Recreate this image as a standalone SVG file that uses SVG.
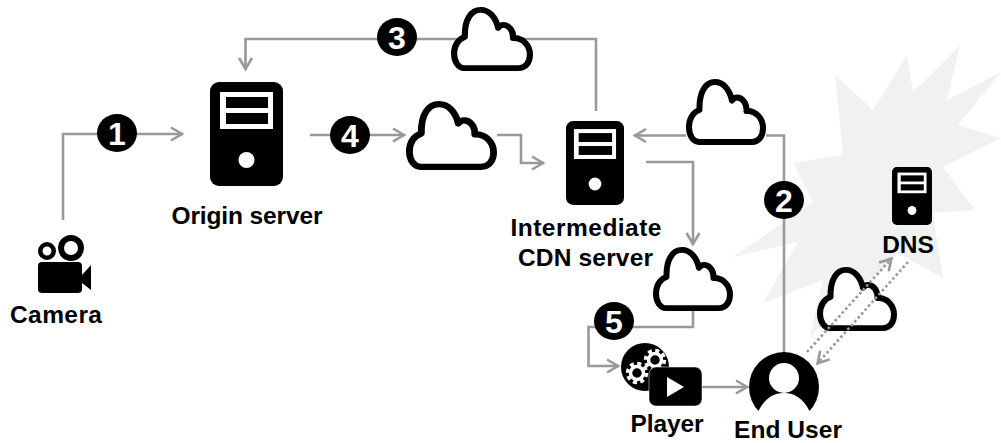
<svg xmlns="http://www.w3.org/2000/svg" xmlns:xlink="http://www.w3.org/1999/xlink" width="1001" height="443" viewBox="0 0 1001 443">
<style>
text{font-family:"Liberation Sans",Arial,sans-serif;font-weight:bold;fill:#000;text-anchor:middle}
.label{font-size:24.5px}
.num{font-size:32px;fill:#fff}
.line{fill:none;stroke:#999;stroke-width:2.6}
.dot{fill:none;stroke:#999;stroke-width:2.6;stroke-dasharray:2.6 2.6}
.cloud{fill:#fff;stroke:#000;stroke-width:6;stroke-linejoin:round}
</style>
<defs>
<marker id="arr" markerUnits="userSpaceOnUse" markerWidth="20" markerHeight="20" refX="15" refY="10" orient="auto" overflow="visible">
<path d="M3 3.500L14 10L3 16.500" fill="none" stroke="#999" stroke-width="2.600"/>
</marker>
<symbol id="cl" viewBox="0 0 80 66" preserveAspectRatio="none" overflow="visible">
<path class="cloud" d="M13 63H66C72.500 63 77 57.500 77 49C77 39.500 70 31.500 60.500 32C61 24.500 56.500 18.500 51 18.500C49 18.500 47.500 19.500 46 21.500C43.500 10 37 3 29 3C19.500 3 13 13 13.500 31C7 33 3 40 3 48C3 57 7.500 63 13 63Z"/>
</symbol>
<symbol id="srv" viewBox="0 0 73 104" preserveAspectRatio="none">
<rect width="73" height="104" rx="9" fill="#000"/>
<rect x="10" y="10" width="53" height="37" fill="#fff"/>
<rect x="16" y="15" width="42" height="11" fill="#000"/>
<rect x="16" y="31" width="42" height="11" fill="#000"/>
<circle cx="36.500" cy="78" r="8" fill="#fff"/>
</symbol>
<g id="gear">
<circle r="9.500" fill="none" stroke="#fff" stroke-width="3.500" stroke-dasharray="4 3.460"/>
<circle r="6.500" fill="#000" stroke="#fff" stroke-width="3.500"/>
</g>
</defs>
<polygon id="burst" fill="#f1f1f1" points="835,75 873,110 907,55 913,92 960,45 947,100 1001,72 958,125 1001,138 943,167 975,210 933,213 943,278 898,253 810,337 823,280 763,303 798,242 733,257 813,202 793,163 843,155"/>
<g id="cloud-dns"><use href="#cl" x="817" y="267" width="80" height="64"/></g>
<g id="connectors">
<path class="line" d="M63 220V134H183" marker-end="url(#arr)"/>
<path class="line" d="M596 111V39H245.500V70" marker-end="url(#arr)"/>
<path class="line" d="M310 135H405" marker-end="url(#arr)"/>
<path class="line" d="M497 135H521V163H544" marker-end="url(#arr)"/>
<path class="line" d="M766 135.500H784V355"/>
<path class="line" d="M686 135.500H634" marker-end="url(#arr)"/>
<path class="line" d="M646 162H693V245" marker-end="url(#arr)"/>
<path class="line" d="M693 311V327H588.500V366H619" marker-end="url(#arr)"/>
<path class="line" d="M702 387H748" marker-end="url(#arr)"/>
<path class="dot" d="M807 352L892 258" marker-end="url(#arr)"/>
<path class="dot" d="M908 262L817 364" marker-end="url(#arr)"/>
</g>
<g id="camera">
<rect x="38" y="262" width="44" height="31" rx="4" fill="#000"/>
<path d="M82 275L91 265V290L82 283Z" fill="#000"/>
<circle cx="47" cy="251" r="6.700" fill="none" stroke="#000" stroke-width="4.500"/>
<circle cx="71" cy="248" r="10" fill="none" stroke="#000" stroke-width="6"/>
<text class="label" x="56" y="323" textLength="92">Camera</text>
</g>
<g id="origin-server">
<use href="#srv" x="210" y="82" width="73" height="104"/>
<text class="label" x="247" y="224" textLength="151">Origin server</text>
</g>
<g id="cloud-3"><use href="#cl" x="451" y="7" width="82" height="64"/></g>
<g id="cloud-4"><use href="#cl" x="406" y="101" width="91" height="69"/></g>
<g id="intermediate-server">
<use href="#srv" x="566" y="121" width="58" height="84"/>
<text class="label" x="586" y="236" textLength="151">Intermediate</text>
<text class="label" x="585.500" y="266" textLength="135">CDN server</text>
</g>
<g id="cloud-2"><use href="#cl" x="686" y="79" width="80" height="66"/></g>
<g id="cloud-5"><use href="#cl" x="653" y="247" width="80" height="64"/></g>
<g id="dns">
<use href="#srv" x="892" y="167" width="40" height="58"/>
<text class="label" x="908" y="253">DNS</text>
</g>
<g id="player">
<circle cx="645" cy="367" r="24" fill="#000"/>
<use href="#gear" x="637" y="373"/>
<use href="#gear" x="655" y="360"/>
<rect x="649" y="367" width="53" height="39" rx="7" fill="#000" stroke="#fff" stroke-width="0.500"/>
<path d="M667 377L684 387L667 397Z" fill="#fff"/>
<text class="label" x="667" y="432" textLength="73">Player</text>
</g>
<g id="end-user">
<circle cx="784" cy="387" r="35" fill="#000"/>
<circle cx="784" cy="378" r="15" fill="#fff"/>
<path d="M758 412C765 397 775 393 784 393C793 393 803 397 810 412V424H758Z" fill="#fff"/>
<text class="label" x="788" y="438" textLength="108">End User</text>
</g>
<g id="badge-1"><ellipse cx="117" cy="133" rx="20" ry="19"/><text class="num" x="117" y="144.500">1</text></g>
<g id="badge-2"><ellipse cx="784" cy="200" rx="20" ry="19"/><text class="num" x="784" y="211.500">2</text></g>
<g id="badge-3"><ellipse cx="397" cy="37" rx="20" ry="19"/><text class="num" x="397" y="48.500">3</text></g>
<g id="badge-4"><ellipse cx="350" cy="135" rx="20" ry="19"/><text class="num" x="350" y="146.500">4</text></g>
<g id="badge-5"><ellipse cx="614" cy="321" rx="20" ry="19"/><text class="num" x="614" y="332.500">5</text></g>
</svg>
